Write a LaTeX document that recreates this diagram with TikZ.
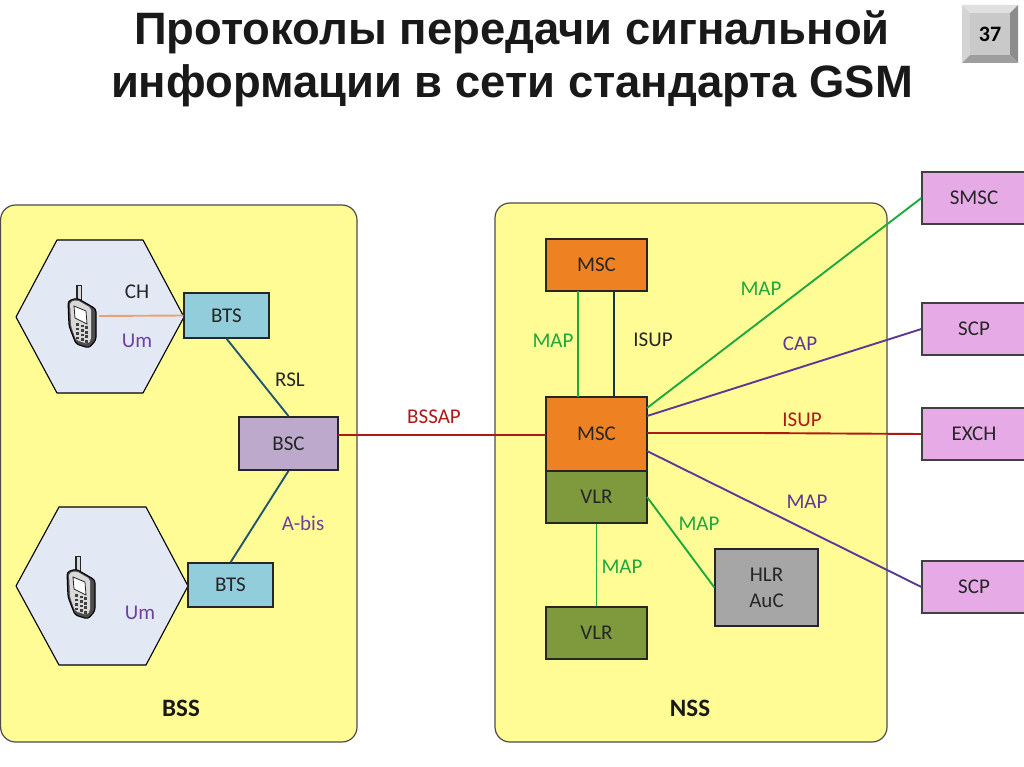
\documentclass[tikz,border=0pt]{standalone}
\usepackage{fontspec}
\setmainfont{Carlito}
\newfontfamily\titlefont{Liberation Sans}
\definecolor{panel}{HTML}{FFFC96}
\definecolor{hexfill}{HTML}{E2E9F4}
\definecolor{btsfill}{HTML}{92CDDC}
\definecolor{bscfill}{HTML}{BDA9CC}
\definecolor{mscfill}{HTML}{EE8222}
\definecolor{vlrfill}{HTML}{7F9A3C}
\definecolor{hlrfill}{HTML}{A6A6A6}
\definecolor{extfill}{HTML}{E6ABE6}
\definecolor{mapgreen}{HTML}{1FA83E}
\definecolor{linkpurple}{HTML}{5B3A95}
\definecolor{linkred}{HTML}{B01818}
\definecolor{linkteal}{HTML}{22566E}
\definecolor{umorange}{HTML}{EFA070}
\definecolor{textpurple}{HTML}{7040A0}
\tikzset{
  x=1pt,y=-1pt,
  panelbox/.style={draw=black!70,fill=panel,line width=1.2pt,rounded corners=15pt},
  hexcell/.style={draw=black,fill=hexfill,line width=1.1pt,line join=round},
  blockbox/.style={draw=black!85,line width=1.2pt,inner sep=0pt,font=\fontsize{21}{23}\selectfont,text=black!85,align=center},
  lab/.style={font=\fontsize{21}{23}\selectfont,inner sep=0pt},
  bigLab/.style={font=\fontsize{25}{27}\selectfont\bfseries,inner sep=0pt,text=black!90},
  titleline/.style={font=\titlefont\fontsize{45.4}{48}\selectfont\bfseries,text=black!90,inner sep=0pt},
  link/.style={line width=1.9pt},
  pics/handset/.style={code={
    \fill[black!85] (-5,-31) rectangle (1,-14);
    \fill[white!85!black] (-3.5,-30) rectangle (-0.5,-15);
    \draw[black,line width=1.1pt,fill=black!70,rounded corners=3pt] (-13,-15) -- (-4,-18) -- (15,-7) -- (15,24) -- (8,32) -- (-5,28) -- (-12,10) -- cycle;
    \fill[black!15,rounded corners=2pt] (-11,-14) -- (-4,-16) -- (10,-8) -- (10,24) -- (7,28) -- (-5,24) -- (-10,10) -- cycle;
    \draw[black!85,fill=white,line width=.8pt] (-7,-10) -- (5,-5) -- (6,8) -- (-6,2) -- cycle;
    \foreach \r in {0,1,2,3}{\foreach \c in {0,1,2}{
      \fill[black!75] ({-5+\c*4.5},{7+\r*4.5+\c*1.6}) rectangle ++(3.2,2.8);}}
  }},
}
\begin{document}
\begin{tikzpicture}
\useasboundingbox (0,0) rectangle (1024,767);
\fill[white] (0,0) rectangle (1024,767);
% title
\node[titleline] (title1) at (512,32) {Протоколы передачи сигнальной};
\node[titleline] (title2) at (512,86) {информации в сети стандарта GSM};
% page button
\fill[black!12] (962,5) -- (1018,5) -- (1010,13) -- (970,13) -- cycle;
\fill[black!17] (962,5) -- (970,13) -- (970,55) -- (962,63) -- cycle;
\fill[black!45] (1018,5) -- (1018,63) -- (1010,55) -- (1010,13) -- cycle;
\fill[black!38] (962,63) -- (970,55) -- (1010,55) -- (1018,63) -- cycle;
\node[fill=black!21,minimum width=40pt,minimum height=42pt,inner sep=0pt,font=\fontsize{22}{24}\selectfont\bfseries] (page) at (990,34) {37};
% panels
\draw[panelbox] (0.6,205) rectangle (357,742);
\draw[panelbox] (495,203) rectangle (887,742);
% hexagons
\draw[hexcell] (16,317) -- (57,240) -- (143,240) -- (184,317) -- (143,393) -- (57,393) -- cycle;
\draw[hexcell] (16,586) -- (59,507) -- (146,507) -- (188,586) -- (146,665) -- (59,665) -- cycle;
% blocks
\node[blockbox,fill=btsfill,minimum width=85pt,minimum height=45pt] (bts1) at (226.5,315.5) {BTS};
\node[blockbox,fill=bscfill,minimum width=99pt,minimum height=53pt,line width=1.8pt] (bsc) at (288.5,443.5) {BSC};
\node[blockbox,fill=btsfill,minimum width=85pt,minimum height=44pt] (bts2) at (230.5,585) {BTS};
\node[blockbox,fill=mscfill,minimum width=101pt,minimum height=52pt] (msc1) at (596.5,265) {MSC};
\node[blockbox,fill=mscfill,minimum width=101pt,minimum height=74pt] (msc2) at (596.5,434) {MSC};
\node[blockbox,fill=vlrfill,minimum width=101pt,minimum height=52pt] (vlr1) at (596.5,497) {VLR};
\node[blockbox,fill=vlrfill,minimum width=101pt,minimum height=52pt] (vlr2) at (596.5,633) {VLR};
\node[blockbox,fill=hlrfill,minimum width=103pt,minimum height=77pt,font=\fontsize{21}{26}\selectfont] (hlr) at (766.5,587.5) {HLR\\AuC};
\node[blockbox,fill=extfill,minimum width=104pt,minimum height=52pt,draw=black!75] (smsc) at (974,198) {SMSC};
\node[blockbox,fill=extfill,minimum width=104pt,minimum height=52pt,draw=black!75] (scp1) at (974,329) {SCP};
\node[blockbox,fill=extfill,minimum width=104pt,minimum height=52pt,draw=black!75] (exch) at (974,434) {EXCH};
\node[blockbox,fill=extfill,minimum width=104pt,minimum height=52pt,draw=black!75] (scp2) at (974,587) {SCP};
% phones
\coordinate (ph1) at (81,316);
\coordinate (ph2) at (80,587);
\pic at (ph1) {handset};
\pic at (ph2) {handset};
% connector end points
\coordinate (bscout) at (338,435);
\coordinate (mscin) at (546,435);
\coordinate (m1a) at (578,291);
\coordinate (m2a) at (578,397);
\coordinate (m1b) at (614,291);
\coordinate (m2b) at (614,397);
\coordinate (mscmap) at (647,408);
\coordinate (msccap) at (647,416);
\coordinate (mscisup) at (647,433);
\coordinate (isupk) at (757,433);
\coordinate (mscmapb) at (647,451);
\coordinate (vlrout) at (647,497);
\coordinate (phout) at (99,316);
% connectors
\draw[link,umorange] (phout) -- (bts1.west);
\draw[link,linkteal] (bts1.south) -- (bsc.north);
\draw[link,linkteal] (bsc.south) -- (bts2.north);
\draw[link,linkred] (bscout) -- (mscin);
\draw[link,mapgreen] (m1a) -- (m2a);
\draw[link,linkteal!60!black] (m1b) -- (m2b);
\draw[link,mapgreen] (mscmap) -- (smsc.west);
\draw[link,linkpurple] (msccap) -- (scp1.west);
\draw[link,linkred] (mscisup) -- (isupk) -- (exch.west);
\draw[link,linkpurple] (mscmapb) -- (scp2.west);
\draw[link,mapgreen] (vlrout) -- (hlr.west);
\draw[link,mapgreen] (vlr1.south) -- (vlr2.north);
% labels
\node[lab,text=black!85] (lch) at (137,292) {CH};
\node[lab,text=textpurple] (lum1) at (137,341) {Um};
\node[lab,text=textpurple] (lum2) at (140,613) {Um};
\node[lab,text=black!85] (lrsl) at (290,380) {RSL};
\node[lab,text=textpurple] (labis) at (303,523) {A-bis};
\node[lab,text=linkred] (lbssap) at (434,417) {BSSAP};
\node[lab,text=mapgreen] (lmap1) at (553,341) {MAP};
\node[lab,text=black!85] (lisup1) at (653,340) {ISUP};
\node[lab,text=mapgreen] (lmap2) at (761,289) {MAP};
\node[lab,text=linkpurple] (lcap) at (800,344) {CAP};
\node[lab,text=linkred] (lisup2) at (802,420) {ISUP};
\node[lab,text=linkpurple] (lmap3) at (807,502) {MAP};
\node[lab,text=mapgreen] (lmap4) at (699,524) {MAP};
\node[lab,text=mapgreen] (lmap5) at (622,567) {MAP};
\node[bigLab] (lbss) at (181,708) {BSS};
\node[bigLab] (lnss) at (690,708) {NSS};
\end{tikzpicture}
\end{document}
